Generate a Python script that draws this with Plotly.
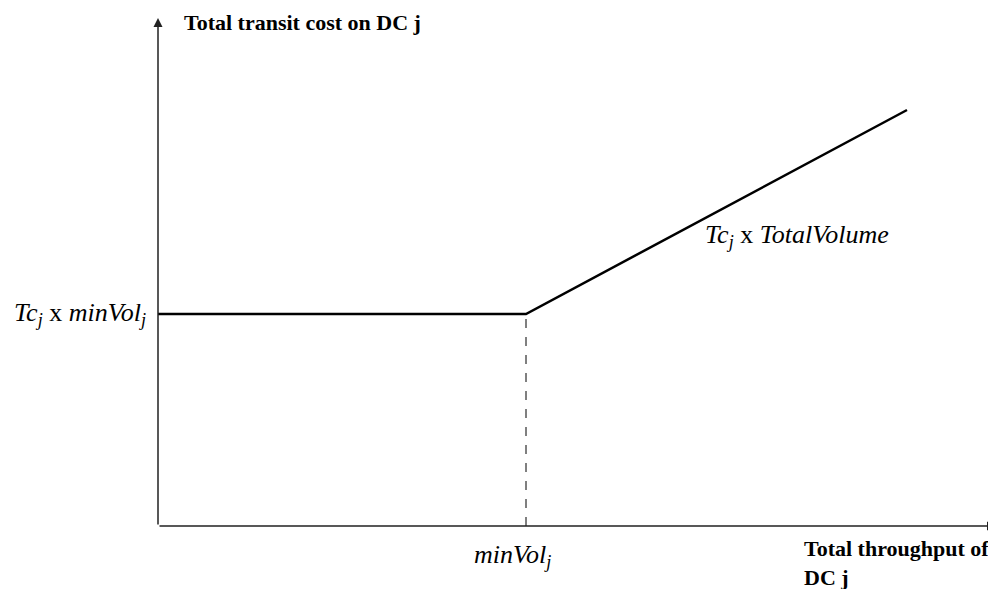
import plotly.graph_objects as go

# Data (abstract units)
cost_x = [0, 368, 749]          # throughput values: start, minVol_j, end
cost_y = [212, 212, 416]        # total transit cost
min_vol = 368
flat_cost = 212
x_max = 838
y_max = 508

FONT = "Liberation Serif"
SUB = "<sub><i>j</i></sub>"

fig = go.Figure()

# dashed guide at minVol
fig.add_trace(go.Scatter(x=[min_vol, min_vol], y=[0, flat_cost], mode="lines",
                         line=dict(color="black", width=1, dash="dash"), hoverinfo="skip"))
# cost curve
fig.add_trace(go.Scatter(x=cost_x, y=cost_y, mode="lines",
                         line=dict(color="black", width=2.5), hoverinfo="skip"))

annotations = [
    # y axis arrow
    dict(x=0, y=y_max, ax=0, ay=0, xref="x", yref="y", axref="x", ayref="y",
         showarrow=True, arrowhead=2, arrowsize=1.2, arrowwidth=1.5, arrowcolor="#222", text=""),
    # x axis arrow
    dict(x=x_max, y=0, ax=0, ay=0, xref="x", yref="y", axref="x", ayref="y",
         showarrow=True, arrowhead=2, arrowsize=1.2, arrowwidth=1.5, arrowcolor="#222", text=""),
    dict(x=24, y=y_max, xref="x", yref="y", xanchor="left", yanchor="middle", showarrow=False,
         yshift=-4,
         text="<b>Total transit cost on DC j</b>", font=dict(family=FONT, size=22, color="black")),
    dict(x=0, y=flat_cost, xref="x", yref="y", xanchor="right", yanchor="middle", xshift=-10, showarrow=False,
         text="<i>Tc</i>" + SUB + " x <i>minVol</i>" + SUB,
         font=dict(family=FONT, size=26, color="black")),
    dict(x=545, y=290, xref="x", yref="y", xanchor="left", yanchor="middle", showarrow=False,
         text="<i>Tc</i>" + SUB + " x <i>TotalVolume</i>",
         font=dict(family=FONT, size=26, color="black")),
    dict(x=min_vol, y=0, xref="x", yref="y", xanchor="center", yanchor="middle", showarrow=False,
         yshift=-30, xshift=-14,
         text="<i>minVol</i>" + SUB,
         font=dict(family=FONT, size=26, color="black")),
    dict(x=644, y=0, xref="x", yref="y", xanchor="left", yanchor="middle", showarrow=False, align="left",
         yshift=-37,
         text="<b>Total throughput of<br>DC j</b>",
         font=dict(family=FONT, size=22, color="black")),
]

fig.update_layout(
    width=988, height=581,
    margin=dict(l=150, r=0, t=10, b=63),
    plot_bgcolor="white", paper_bgcolor="white",
    showlegend=False,
    xaxis=dict(range=[0, x_max], visible=False, fixedrange=True),
    yaxis=dict(range=[0, y_max], visible=False, fixedrange=True),
    annotations=annotations,
)

fig.write_html("out.html")
